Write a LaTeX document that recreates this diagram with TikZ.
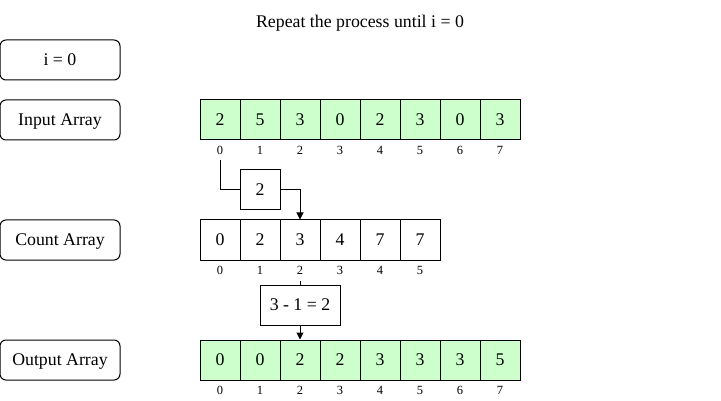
\documentclass[tikz,border=0pt]{standalone}
\usepackage{fontspec}
\setmainfont{Liberation Serif}
\usetikzlibrary{arrows.meta}
\definecolor{cellgreen}{HTML}{CCFFCC}
\begin{document}
\begin{tikzpicture}[x=1pt,y=-1pt,line width=1pt,
  mainfont/.style={font=\fontsize{17.8}{20}\selectfont,text depth=0pt},
  lbl/.style={draw,rounded corners=6pt,minimum width=120pt,minimum height=40pt,inner sep=0pt,mainfont},
  cellbox/.style={draw,minimum width=40pt,minimum height=40pt,inner sep=0pt,mainfont},
  gcell/.style={cellbox,fill=cellgreen},
  idx/.style={font=\fontsize{12.5}{14}\selectfont,inner sep=0pt,text depth=0pt},
  arr/.style={-{Triangle[length=7pt,width=7pt]}}]
\useasboundingbox (0,0) rectangle (721,401);
\node[mainfont,inner sep=0pt] (title) at (360,21) {Repeat the process until i = 0};
\node[lbl] (iz) at (60,60) {i = 0};
\node[lbl] (inlbl) at (60,120) {Input Array};
\node[lbl] (cntlbl) at (60,240) {Count Array};
\node[lbl] (outlbl) at (60,360) {Output Array};
\foreach \v [count=\i from 0] in {2,5,3,0,2,3,0,3}{
  \node[gcell] (in\i) at ({220+40*\i},120) {\v};
  \node[idx] (ii\i) at ({220+40*\i},150) {\i};
}
\foreach \v [count=\i from 0] in {0,2,3,4,7,7}{
  \node[cellbox] (cn\i) at ({220+40*\i},240) {\v};
  \node[idx] (ci\i) at ({220+40*\i},270) {\i};
}
\foreach \v [count=\i from 0] in {0,0,2,2,3,3,3,5}{
  \node[gcell] (out\i) at ({220+40*\i},360) {\v};
  \node[idx] (oi\i) at ({220+40*\i},390) {\i};
}
\node[cellbox] (two) at (260,190) {2};
\node[cellbox,minimum width=80pt] (calc) at (300,305) {3 - 1 = 2};
\draw ([yshift=-5.5pt]ii0.south) |- (two.west);
\draw[arr] (two.east) -| (cn2.north);
\draw ([yshift=-6.5pt]ci2.south) -- (calc.north);
\draw[arr] (calc.south) -- (out2.north);
\end{tikzpicture}
\end{document}
